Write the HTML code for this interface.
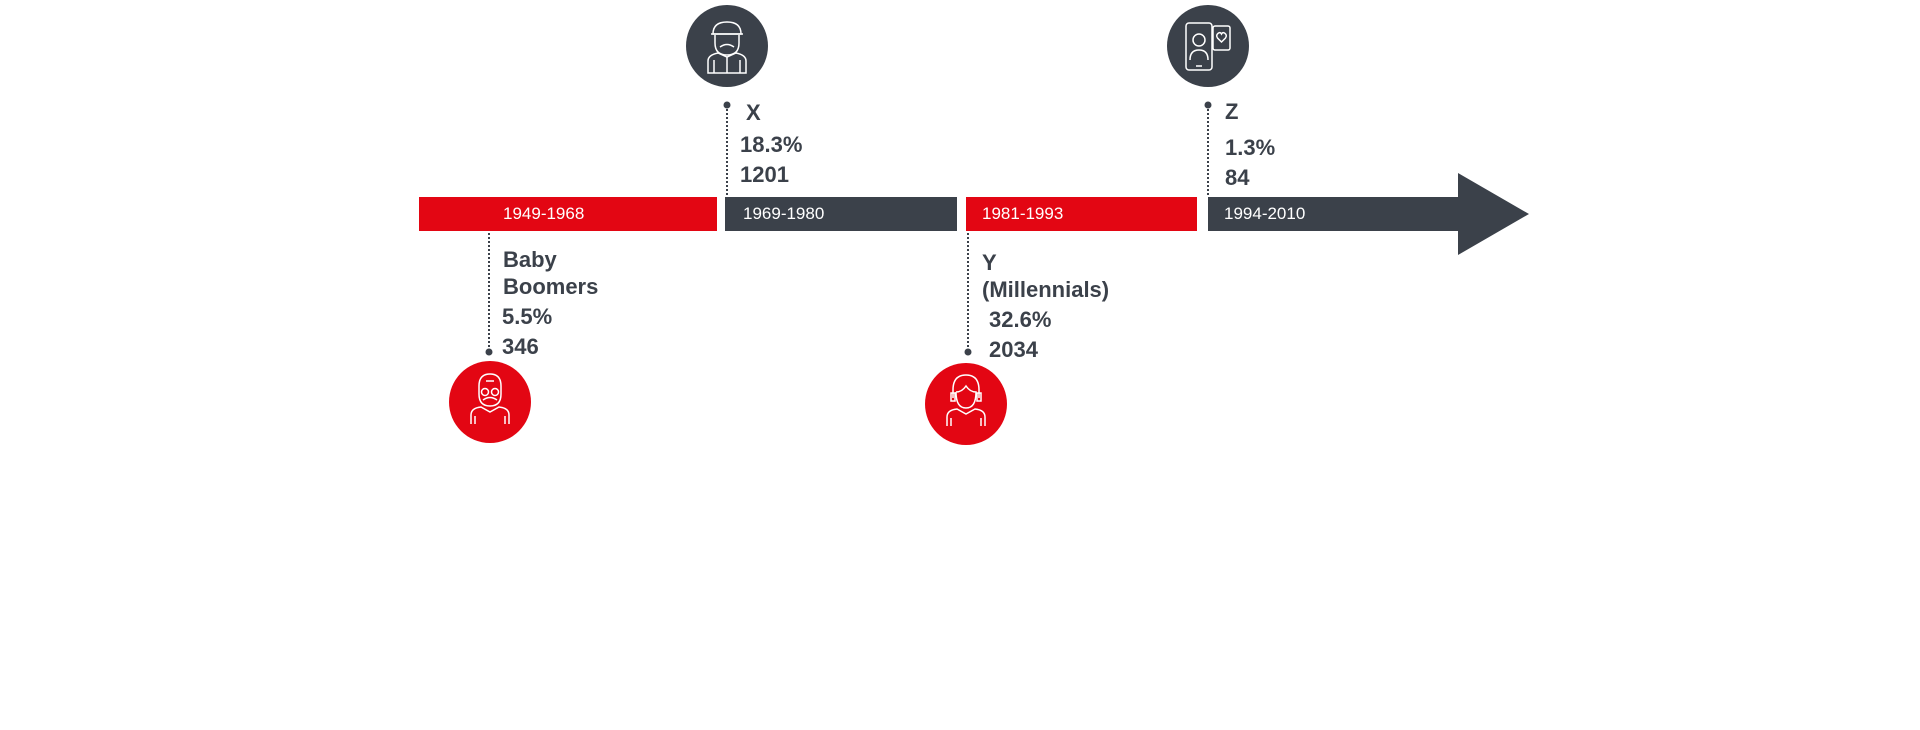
<!DOCTYPE html>
<html><head><meta charset="utf-8"><style>
html,body{margin:0;padding:0;background:#fff;}
body{width:1920px;height:730px;position:relative;overflow:hidden;font-family:"Liberation Sans",Arial,sans-serif;}
.t{position:absolute;font-weight:bold;font-size:22px;color:#3b414a;line-height:1;white-space:nowrap;}
.bl{position:absolute;color:#fff;font-size:17px;line-height:1;}
</style></head><body>
<svg width="1920" height="730" style="position:absolute;left:0;top:0">
 <rect x="419" y="197" width="298" height="34" fill="#e30613"/>
 <rect x="725" y="197" width="232" height="34" fill="#3b414a"/>
 <rect x="966" y="197" width="231" height="34" fill="#e30613"/>
 <polygon points="1208,197 1458,197 1458,173 1529,214 1458,255 1458,231 1208,231" fill="#3b414a"/>
 <g stroke="#3b414a" stroke-width="2" stroke-dasharray="2,2">
  <line x1="727" y1="105" x2="727" y2="197"/>
  <line x1="1208" y1="105" x2="1208" y2="197"/>
  <line x1="489" y1="233" x2="489" y2="352"/>
  <line x1="968" y1="233" x2="968" y2="352"/>
 </g>
 <g fill="#3b414a">
  <circle cx="727" cy="105" r="3.5"/><circle cx="1208" cy="105" r="3.5"/>
  <circle cx="489" cy="352" r="3.5"/><circle cx="968" cy="352" r="3.5"/>
 </g>
 <circle cx="727" cy="46" r="41" fill="#3b414a"/>
 <circle cx="1208" cy="46" r="41" fill="#3b414a"/>
 <circle cx="490" cy="402" r="41" fill="#e30613"/>
 <circle cx="966" cy="404" r="41" fill="#e30613"/>
 <g fill="none" stroke="#fff" stroke-width="1.5">
  <path d="M713 34 q0-12 14-12 q14 0 14 12 z"/><line x1="711" y1="34" x2="743" y2="34"/>
  <path d="M715 35 v8 q0 12 12 12 q12 0 12-12 v-8"/>
  <path d="M720 47 q7-5 14 0"/>
  <path d="M708 73 v-12 q0-6 10-8 l9 4 l9-4 q10 2 10 8 v12 z"/>
  <line x1="727" y1="57" x2="727" y2="73"/><line x1="714" y1="60" x2="714" y2="73"/><line x1="740" y1="60" x2="740" y2="73"/>
 </g>
 <g fill="none" stroke="#fff" stroke-width="1.5">
  <rect x="1186" y="23" width="26" height="47" rx="3"/>
  <line x1="1196" y1="66" x2="1202" y2="66"/>
  <circle cx="1199" cy="40" r="6"/><path d="M1190 60 q0-10 9-10 q9 0 9 10"/>
  <rect x="1213" y="26" width="17" height="24" rx="2"/>
  <path d="M1221.5 42 l-4-4 q-2-3 1-5 q2-1 3 1 q1-2 3-1 q3 2 1 5 z"/>
 </g>
 <g fill="none" stroke="#fff" stroke-width="1.5">
  <path d="M479 394 v-8 q0-12 11-12 q11 0 11 12 v8 q0 12-11 12 q-11 0-11-12 z"/>
  <circle cx="485" cy="392" r="3.5"/><circle cx="495" cy="392" r="3.5"/>
  <path d="M483 400 q7-5 14 0"/><line x1="486" y1="381" x2="494" y2="381"/>
  <path d="M471 424 v-9 q0-7 10-8 l9 5 l9-5 q10 1 10 8 v9"/>
  <line x1="475" y1="416" x2="475" y2="424"/><line x1="505" y1="416" x2="505" y2="424"/>
 </g>
 <g fill="none" stroke="#fff" stroke-width="1.5">
  <path d="M953 398 v-8 q0-15 13-15 q13 0 13 15 v8"/>
  <path d="M956 392 q0 16 10 16 q10 0 10-16 q-6 0-10-6 q-4 6-10 6"/>
  <rect x="951" y="393" width="4" height="8"/><rect x="977" y="393" width="4" height="8"/>
  <path d="M947 426 v-9 q0-7 10-8 l9 5 l9-5 q10 1 10 8 v9"/>
  <line x1="951" y1="418" x2="951" y2="426"/><line x1="981" y1="418" x2="981" y2="426"/>
 </g>
</svg>
<div class="bl" style="left:503px;top:205px">1949-1968</div>
<div class="bl" style="left:743px;top:205px">1969-1980</div>
<div class="bl" style="left:982px;top:205px">1981-1993</div>
<div class="bl" style="left:1224px;top:205px">1994-2010</div>

<div class="t" style="left:746px;top:102px">X</div>
<div class="t" style="left:740px;top:134px">18.3%</div>
<div class="t" style="left:740px;top:164px">1201</div>

<div class="t" style="left:1225px;top:101px">Z</div>
<div class="t" style="left:1225px;top:137px">1.3%</div>
<div class="t" style="left:1225px;top:167px">84</div>

<div class="t" style="left:503px;top:249px">Baby</div>
<div class="t" style="left:503px;top:276px">Boomers</div>
<div class="t" style="left:502px;top:306px">5.5%</div>
<div class="t" style="left:502px;top:336px">346</div>

<div class="t" style="left:982px;top:252px">Y</div>
<div class="t" style="left:982px;top:279px">(Millennials)</div>
<div class="t" style="left:989px;top:309px">32.6%</div>
<div class="t" style="left:989px;top:339px">2034</div>
</body></html>
